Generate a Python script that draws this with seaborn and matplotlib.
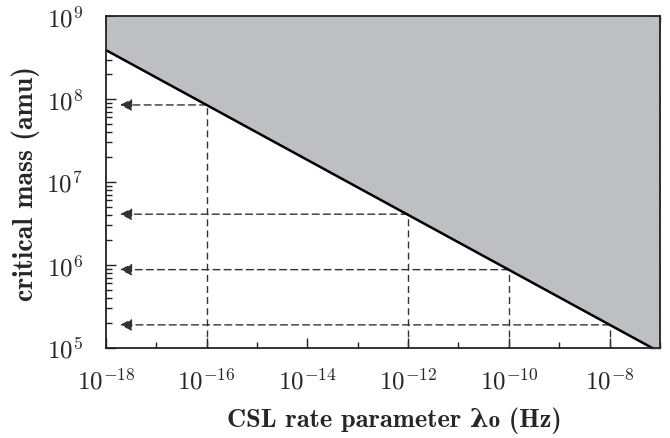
import numpy as np
import matplotlib
matplotlib.use("Agg")
import matplotlib.pyplot as plt
import matplotlib.ticker as mticker
import seaborn as sns

# critical mass line (log-log, slope ~ -1/3)
line_rate = [1e-18, 1e-7]
line_mass = [3.9e8, 8.9e4]

# marked points with dashed guides
mark_rate = [1e-16, 1e-12, 1e-10, 1e-8]
mark_mass = [8.5e7, 4.1e6, 8.8e5, 1.9e5]

sns.set_style("ticks")
plt.rcParams["mathtext.fontset"] = "cm"
plt.rcParams["font.family"] = ["serif"]
plt.rcParams["font.serif"] = ["cmr10", "DejaVu Serif"]
plt.rcParams["axes.formatter.use_mathtext"] = True

fig, ax = plt.subplots(figsize=(6.7, 4.39), dpi=100)
fig.subplots_adjust(left=0.158, right=0.985, top=0.961, bottom=0.205)

sns.lineplot(x=line_rate, y=line_mass, ax=ax, color="black", linewidth=1.8,
             zorder=4)
ax.fill_between(line_rate, line_mass, 1e9, color="#bebfc3", zorder=1,
                linewidth=0)

ax.set_xscale("log")
ax.set_yscale("log")
ax.set_xlim(1e-18, 1e-7)
ax.set_ylim(1e5, 1e9)

dash_col = "#333333"
for r, m in zip(mark_rate, mark_mass):
    ax.plot([r, r], [1e5, m], ls=(0, (5, 3)), color=dash_col, lw=1.0, zorder=3)
    ax.annotate("", xy=(1.9e-18, m), xytext=(r, m),
                arrowprops=dict(arrowstyle="-|>", color=dash_col, lw=1.0,
                                ls=(0, (5, 3)), mutation_scale=18,
                                shrinkA=0, shrinkB=0), zorder=3)

ax.xaxis.set_major_locator(mticker.LogLocator(base=100, numticks=20))
ax.xaxis.set_minor_locator(mticker.LogLocator(base=10, numticks=30))
ax.xaxis.set_minor_formatter(mticker.NullFormatter())
ax.yaxis.set_major_locator(mticker.LogLocator(base=10, numticks=10))
ax.yaxis.set_minor_locator(mticker.LogLocator(base=10, subs=np.arange(2, 10), numticks=10))
ax.yaxis.set_minor_formatter(mticker.NullFormatter())

ax.tick_params(which="both", direction="in", top=True, right=True,
               labelsize=18, width=1.0, color="#222222")
ax.tick_params(which="major", length=7)
ax.tick_params(axis="x", which="major", pad=14)
ax.tick_params(axis="y", which="major", pad=16.5)
ax.tick_params(which="minor", length=4)
for s in ax.spines.values():
    s.set_linewidth(1.3)
    s.set_color("#222222")
    s.set_zorder(5)

ax.set_xlabel("CSL rate parameter λ₀ (Hz)", fontsize=19,
              fontfamily=["cmb10", "DejaVu Serif"], fontweight="bold")
ax.set_ylabel("critical mass (amu)", fontsize=20,
              fontfamily=["cmb10", "DejaVu Serif"], fontweight="bold")
ax.xaxis.set_label_coords(0.52, -0.176)
ax.yaxis.set_label_coords(-0.118, 0.5)

fig.savefig("out.png", dpi=100)
